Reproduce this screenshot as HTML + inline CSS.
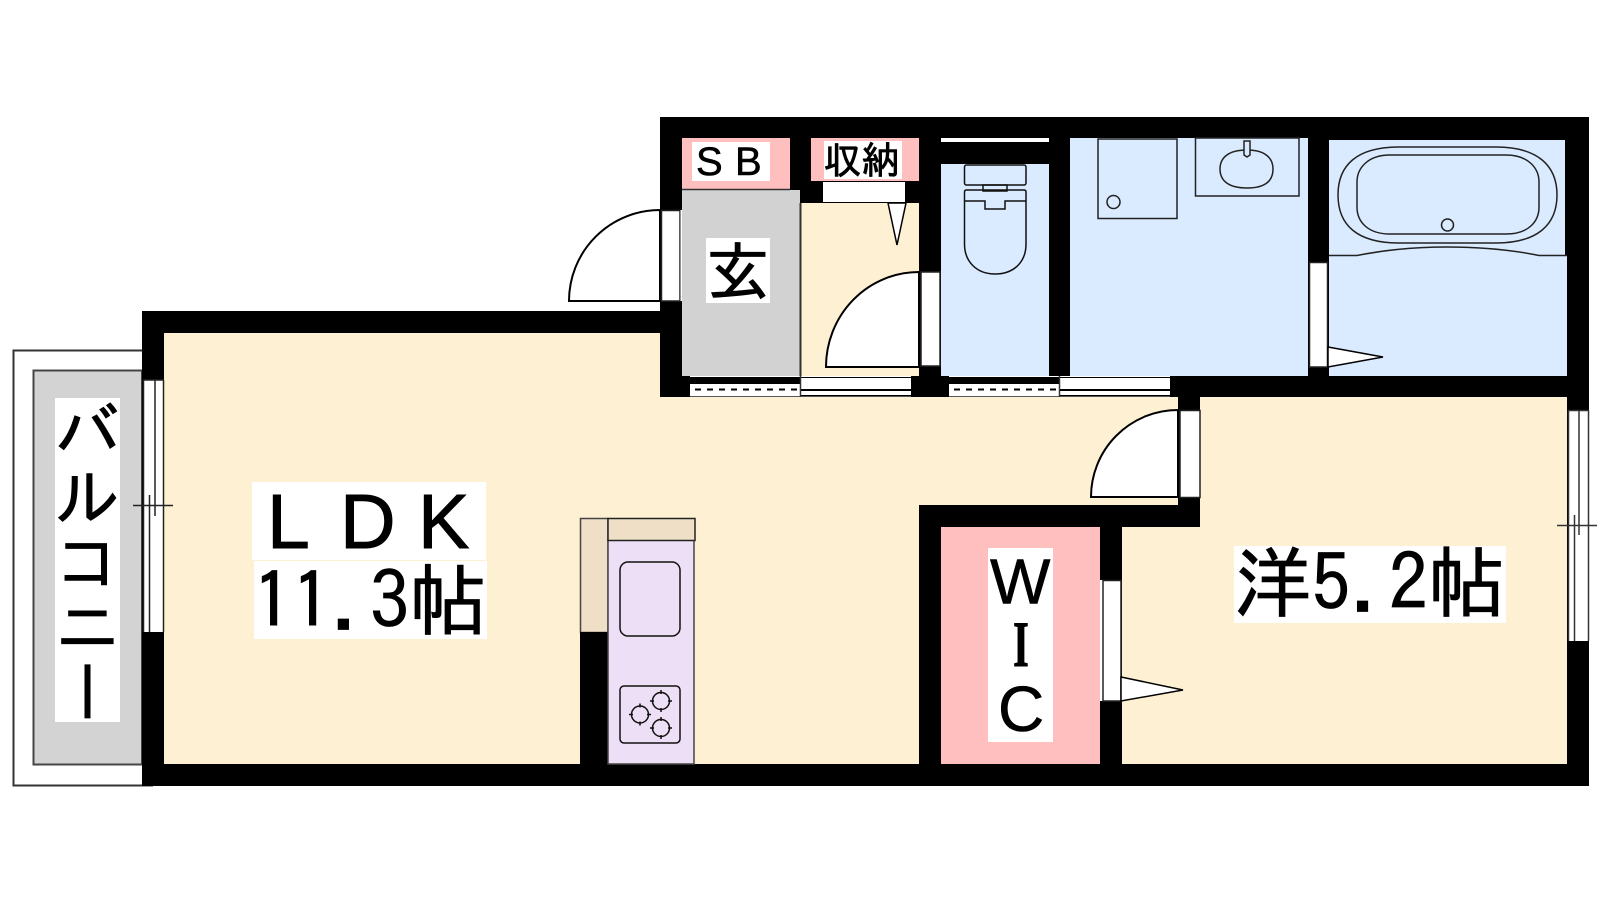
<!DOCTYPE html>
<html lang="ja">
<head>
<meta charset="utf-8">
<title>Floor plan</title>
<style>
html,body{margin:0;padding:0;background:#fff;width:1600px;height:900px;overflow:hidden}
svg{display:block;position:absolute;left:0;top:0}
text{font-family:"IPAGothic","Liberation Sans","Noto Sans CJK JP",sans-serif;fill:#000;stroke:#000;stroke-width:.8px}
text.l{font-family:"Liberation Sans",sans-serif;stroke-width:.6px}
#balc{position:absolute;left:55px;top:398px;width:65px;height:324px;background:#fff;writing-mode:vertical-rl;text-orientation:upright;font:65px/65px "IPAGothic","Noto Sans CJK JP",sans-serif;color:#000;white-space:nowrap;-webkit-text-stroke:.8px #000}
</style>
</head>
<body>
<svg width="1600" height="900" viewBox="0 0 1600 900" xmlns="http://www.w3.org/2000/svg">
<rect width="1600" height="900" fill="#fff"/>
<!-- balcony -->
<path d="M142,350.5H13.5V785.5H153" fill="#fff" stroke="#333" stroke-width="2"/>
<path d="M142,370.5H33.5V764.5H142Z" fill="#d3d3d3" stroke="#444" stroke-width="2"/>
<!-- building mass -->
<polygon points="660,117 1589,117 1589,786 142,786 142,311 660,311" fill="#000"/>
<!-- rooms -->
<polygon points="164,333 660,333 660,397 1178,397 1178,505 919,505 919,764 164,764" fill="#fef0d2"/>
<polygon points="1122,527 1200,527 1200,397 1567,397 1567,764 1122,764" fill="#fef0d2"/>
<rect x="941" y="527" width="159" height="237" fill="#ffbfbf"/>
<rect x="682" y="138" width="108" height="51" fill="#ffbfbf"/>
<rect x="811" y="138" width="108" height="43" fill="#ffbfbf"/>
<rect x="682" y="190" width="118" height="186" fill="#d2d2d2"/>
<rect x="800" y="203" width="119" height="173" fill="#fef0d2"/>
<rect x="941" y="164" width="108" height="212" fill="#daebff"/>
<rect x="941" y="138" width="108" height="4" fill="#fff"/>
<rect x="1070" y="138" width="238" height="238" fill="#daebff"/>
<polygon points="1329,140 1565,140 1565,255 1567,255 1567,376 1329,376" fill="#daebff"/>
<line x1="682" y1="189.5" x2="790" y2="189.5" stroke="#333" stroke-width="1.5"/>
<line x1="800.5" y1="203" x2="800.5" y2="376" stroke="#333" stroke-width="2"/>
<!-- storage door & triangle -->
<rect x="823" y="182" width="82" height="20" fill="#fff"/>
<polygon points="888,203 906,203 897,245" fill="#fff" stroke="#000" stroke-width="1.5"/>
<!-- inner door -->
<path d="M919,272A93,95 0 0 0 826,367H919Z" fill="#fff" stroke="#000" stroke-width="2"/>
<rect x="921" y="272" width="19" height="94" fill="#fff" stroke="#222" stroke-width="1.5"/>
<!-- entrance door -->
<path d="M660,210A91,91 0 0 0 569,301H660Z" fill="#fff" stroke="#000" stroke-width="2"/>
<rect x="661.500" y="210.5" width="18.500" height="90.5" fill="#fff" stroke="#222" stroke-width="1.5"/>
<rect x="680.500" y="210" width="1.500" height="91" fill="#fff"/>
<!-- LDK door -->
<path d="M1178,410A87,87 0 0 0 1091,497H1178Z" fill="#fff" stroke="#000" stroke-width="2"/>
<rect x="1180" y="410.500" width="20" height="87" fill="#fff" stroke="#222" stroke-width="1.5"/>
<!-- WIC door -->
<rect x="1100" y="580" width="3" height="121" fill="#fff"/>
<rect x="1103" y="580.500" width="18" height="120.500" fill="#fff" stroke="#222" stroke-width="1.5"/>
<polygon points="1121,677 1183,690 1121,701" fill="#fff" stroke="#000" stroke-width="1.5"/>
<!-- bath door -->
<rect x="1309.500" y="262.500" width="18" height="104.500" fill="#fff" stroke="#222" stroke-width="1.5"/>
<polygon points="1328,347 1383,357 1328,367" fill="#fff" stroke="#000" stroke-width="1.5"/>
<!-- bottom sliding windows -->
<g fill="#fff">
<rect x="690" y="376" width="221" height="1"/>
<rect x="690" y="384" width="110" height="12"/>
<rect x="801" y="378" width="110" height="11"/>
<rect x="801" y="391" width="110" height="4"/>
<rect x="949" y="376" width="221" height="1"/>
<rect x="949" y="384" width="110" height="12"/>
<rect x="1060" y="378" width="110" height="11"/>
<rect x="1060" y="391" width="110" height="4"/>
<rect x="690" y="396" width="221" height="1" fill="#555"/>
<rect x="949" y="396" width="221" height="1" fill="#555"/>
</g>
<line x1="695" y1="389.500" x2="800" y2="389.500" stroke="#000" stroke-width="2" stroke-dasharray="6 6"/>
<line x1="954" y1="389.500" x2="1059" y2="389.500" stroke="#000" stroke-width="2" stroke-dasharray="6 6"/>
<line x1="800.500" y1="376" x2="800.500" y2="397" stroke="#333" stroke-width="1.500"/>
<line x1="1059.500" y1="376" x2="1059.500" y2="397" stroke="#333" stroke-width="1.500"/>
<!-- left window -->
<rect x="143" y="380" width="21" height="252" fill="#fff"/>
<g stroke="#222" stroke-width="1.500" fill="none">
<path d="M143.500,380V632M163.500,380V632M155,380V516M149.500,495V632M143,380H164"/>
<path d="M133,505.500H173"/>
</g>
<!-- right window -->
<rect x="1568" y="410" width="21" height="231" fill="#fff"/>
<g stroke="#333" stroke-width="1.500" fill="none">
<path d="M1568.500,410V641M1588.500,410V641M1579,410V535M1574.500,515V641M1568,410.500H1589"/>
<path d="M1557,525.500H1597"/>
</g>
<!-- kitchen -->
<rect x="580.500" y="518.500" width="27.500" height="114" fill="#eedfc6" stroke="#444" stroke-width="1.500"/>
<rect x="580" y="632" width="28" height="132" fill="#000"/>
<rect x="608" y="540" width="86" height="224" fill="#eddff5" stroke="#444" stroke-width="1.500"/>
<rect x="608" y="518.500" width="87" height="22" fill="#eedfc6" stroke="#222" stroke-width="1.500"/>
<g fill="none" stroke="#111" stroke-width="1.500">
<rect x="620" y="562" width="60" height="74" rx="8"/>
<rect x="620" y="686" width="60" height="57" rx="4"/>
<circle cx="640" cy="714.500" r="8.500"/>
<circle cx="661" cy="701" r="8.500"/>
<circle cx="661" cy="728" r="8.500"/>
<path d="M629,714.500h4M647,714.500h4M640,703.500v4M640,721.500v4M650,701h4M668,701h4M661,690v4M661,708v4M650,728h4M668,728h4M661,717v4M661,735v4"/>
</g>
<!-- toilet -->
<g fill="none" stroke="#111" stroke-width="1.500">
<rect x="964.500" y="165" width="61.500" height="20" rx="2"/>
<rect x="983" y="185" width="24" height="6"/>
<path d="M964.500,192Q964.500,190 966.500,190H1024Q1026,190 1026,192V244C1026,262 1014,274 995,274C977,274 964.500,262 964.500,244Z"/>
<path d="M964.500,201H985V209H1005V201H1026"/>
</g>
<!-- wash room -->
<g fill="none" stroke="#222" stroke-width="1.500">
<rect x="1098" y="139" width="79" height="79.500"/>
<circle cx="1113.500" cy="202" r="6.500"/>
<rect x="1195.500" y="138" width="103.500" height="58"/>
<path d="M1247,150C1228,150 1220,158 1220,169C1220,181 1229,188 1247,188C1265,188 1273,181 1273,169C1273,158 1265,150 1247,150Z"/>
<path d="M1244,141H1250V155L1247,157L1244,155Z" fill="#daebff"/>
</g>
<!-- bath -->
<g fill="none" stroke="#222" stroke-width="1.500">
<path d="M1399,147H1496C1537,147 1557,165 1557,195C1557,225 1537,243 1496,243H1399C1357,243 1338,225 1338,195C1338,165 1357,147 1399,147Z"/>
<path d="M1390,155H1506C1528,155 1539,168 1539,182V207C1539,222 1528,234 1506,234H1390C1368,234 1357,222 1357,207V182C1357,168 1368,155 1390,155Z"/>
<circle cx="1447.500" cy="225" r="6"/>
<path d="M1329,255.500H1357C1385,250 1415,247 1447,247C1480,247 1512,250 1539,255.500H1567"/>
</g>
<!-- labels -->
<g fill="#fff">
<rect x="692" y="142" width="78" height="39"/>
<rect x="824" y="141" width="78" height="38"/>
<rect x="706" y="238" width="64" height="65"/>
<rect x="252" y="482" width="234" height="78"/>
<rect x="254" y="561" width="233" height="78"/>
<rect x="1234" y="546" width="272" height="77"/>
<rect x="988" y="548" width="65" height="194"/>
</g>
<text class="l" x="696 735" y="175" font-size="40">SB</text>
<text x="823.500" y="174" font-size="38">収納</text>
<text x="706" y="295" font-size="64">玄</text>
<text class="l" x="267 340 418" y="548" font-size="77" style="stroke-width:1px">LDK</text>
<text x="253" y="629" font-size="78">11.3帖</text>
<text x="1234" y="611" font-size="77.500">洋5.2帖</text>
<text class="l" x="990" y="603.500" font-size="64">W</text>
<text class="l" transform="translate(1021,666) scale(.62,1)" text-anchor="middle" style="font-family:'Liberation Serif',serif;font-weight:bold;stroke-width:1px" font-size="65">I</text>
<text class="l" x="998" y="731" font-size="64">C</text>
</svg>
<div id="balc">バルコニー</div>
</body>
</html>
